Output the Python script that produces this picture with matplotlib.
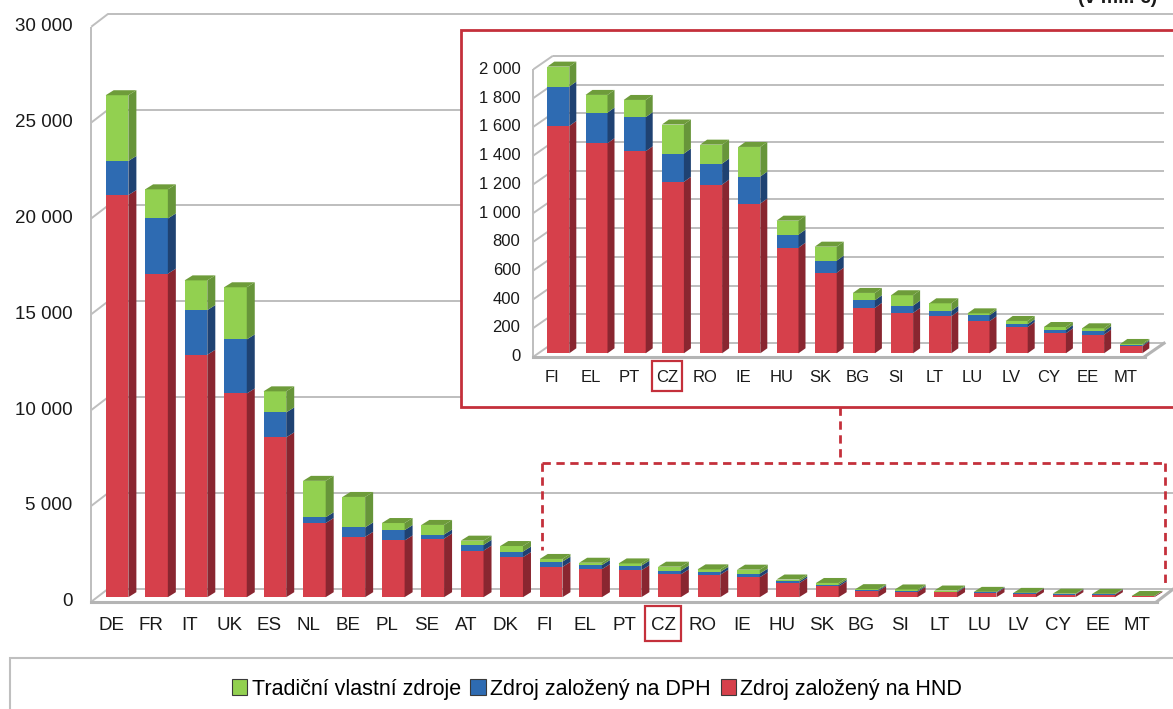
import numpy as np
import matplotlib
matplotlib.use('Agg')
import matplotlib.pyplot as plt
from matplotlib.patches import Polygon, Rectangle, Patch
from matplotlib.lines import Line2D

plt.rcParams['font.family'] = ['Liberation Sans', 'DejaVu Sans']
plt.rcParams['lines.scale_dashes'] = False

# ---------------- data (mil. EUR) ----------------
countries = ['DE', 'FR', 'IT', 'UK', 'ES', 'NL', 'BE', 'PL', 'SE', 'AT', 'DK',
             'FI', 'EL', 'PT', 'CZ', 'RO', 'IE', 'HU', 'SK', 'BG', 'SI', 'LT',
             'LU', 'LV', 'CY', 'EE', 'MT']
hnd = [20980, 16880, 12650, 10630, 8340, 3870, 3150, 2960, 3060, 2430, 2090,
       1582, 1462, 1406, 1193, 1174, 1042, 735, 561, 316, 281, 258,
       223, 183, 139, 130, 49]
dph = [1780, 2880, 2330, 2820, 1300, 300, 490, 540, 210, 300, 290,
       274, 213, 237, 197, 146, 188, 91, 84, 53, 51, 37,
       41, 19, 23, 23, 7]
tvz = [3430, 1520, 1550, 2720, 1100, 1900, 1590, 370, 500, 220, 290,
       139, 123, 120, 202, 132, 206, 97, 97, 51, 72, 53,
       14, 23, 21, 21, 9]
series_names = ['Tradiční vlastní zdroje', 'Zdroj založený na DPH', 'Zdroj založený na HND']
main_ticks = [0, 5000, 10000, 15000, 20000, 25000, 30000]
inset_ticks = [0, 200, 400, 600, 800, 1000, 1200, 1400, 1600, 1800, 2000]
inset_start = 'FI'
highlight = 'CZ'
unit_label = '(v mil. €)'

# ---------------- styles ----------------
RED, RED_S = '#D6404B', '#892630'
BLUE, BLUE_S = '#2E6BB2', '#1F4272'
GREEN, GREEN_S, GREEN_T = '#92D050', '#67953A', '#6E9C3A'
GRID = '#BEBEBE'
FRAME = '#C4303B'

W, H = 1173, 709
fig = plt.figure(figsize=(W / 100, H / 100), dpi=100)


def fmt(v):
    return f'{v:,}'.replace(',', ' ')


def make_axes(l, r, y0, ytop, n, vmax, z):
    ax = fig.add_axes([l / W, 1 - y0 / H, (r - l) / W, (y0 - ytop) / H], zorder=z)
    ax.set_xlim(-0.5, n - 0.5)
    ax.set_ylim(0, vmax)
    ax.axis('off')
    ax.patch.set_alpha(0)
    return ax, (r - l) / n, (y0 - ytop) / vmax


def draw_walls(ax, sx, sy, n, ticks, back, grid_right, lab_pad, fs):
    bx, by = back[0] / sx, back[1] / sy
    x0 = -0.5
    kw = dict(color=GRID, lw=1.4, clip_on=False, zorder=1, solid_capstyle='butt')
    for v in ticks:
        xr = grid_right if v > 0 else n - 0.5 + bx
        ax.plot([x0 + bx, xr], [v + by, v + by], **kw)
        ax.plot([x0, x0 + bx], [v, v + by], **kw)
        ax.text(x0 - lab_pad / sx, v, fmt(v), ha='right', va='center',
                fontsize=fs, color='#1a1a1a', clip_on=False)
    ax.plot([x0, x0], [0, ticks[-1]], **kw)
    ax.plot([x0, n - 0.5], [0, 0], color='#B4B4B4', lw=2.2, clip_on=False, zorder=1)
    ax.plot([n - 0.5, n - 0.5 + bx], [0, by], color='#B4B4B4', lw=2.2,
            clip_on=False, zorder=1)


def draw_bars(ax, sx, sy, segs, fronts, sides, top_c, bw_px, off_px, depth_px):
    n = len(segs[0])
    xs = np.arange(n)
    bw = bw_px / sx
    ox, oy = off_px[0] / sx, off_px[1] / sy
    dx, dy = depth_px[0] / sx, depth_px[1] / sy
    bottom = np.full(n, oy, dtype=float)
    for vals, fc, sc in zip(segs, fronts, sides):
        vals = np.asarray(vals, dtype=float)
        ax.bar(xs + ox, vals, width=bw, bottom=bottom, color=fc, lw=0, zorder=3,
               clip_on=False)
        for i in range(n):
            xr = xs[i] + ox + bw / 2
            b, t = bottom[i], bottom[i] + vals[i]
            ax.add_patch(Polygon([(xr, b), (xr + dx, b + dy), (xr + dx, t + dy), (xr, t)],
                                 closed=True, fc=sc, lw=0, zorder=3, clip_on=False))
        bottom = bottom + vals
    for i in range(n):
        xl = xs[i] + ox - bw / 2
        t = bottom[i]
        ax.add_patch(Polygon([(xl, t), (xl + dx, t + dy), (xl + bw + dx, t + dy), (xl + bw, t)],
                             closed=True, fc=top_c, lw=0, zorder=3, clip_on=False))


def draw_cats(ax, sx, sy, cats, pad, fs, box):
    for i, c in enumerate(cats):
        ax.text(i, -pad / sy, c, ha='center', va='center', fontsize=fs,
                color='#1a1a1a', clip_on=False)
        if c == highlight:
            bwid, bh, yoff = box
            ax.add_patch(Rectangle((i - bwid / 2 / sx, -(pad - yoff + bh / 2) / sy),
                                   bwid / sx, bh / sy, fill=False, ec=FRAME,
                                   lw=1.6, clip_on=False, zorder=5))


# ---------------- main chart ----------------
n_main = len(countries)
ax, sx, sy = make_axes(91.3, 91.3 + 27 * 39.46, 601.7, 26.7, n_main, 30000, 0)
draw_walls(ax, sx, sy, n_main, main_ticks, (17, 13), n_main + 2, 19, 13.5)
draw_bars(ax, sx, sy, [hnd, dph, tvz], [RED, BLUE, GREEN], [RED_S, BLUE_S, GREEN_S],
          GREEN_T, 22.7, (6, 4.5), (8, 5))
draw_cats(ax, sx, sy, countries, 24, 13.5, (36, 35, 2.5))

# ---------------- inset ----------------
k = countries.index(inset_start)
inset_c = countries[k:]
fig.add_artist(Rectangle((461 / W, 1 - 407 / H), (1200 - 461) / W, (407 - 30) / H,
                         transform=fig.transFigure, fc='white', ec=FRAME, lw=2.0, zorder=1.5))
n_in = len(inset_c)
ax2, sx2, sy2 = make_axes(533.4, 533.4 + 16 * 38.2, 356.7, 69.3, n_in, 2000, 2)
draw_walls(ax2, sx2, sy2, n_in, inset_ticks, (19.5, 13.5), n_in - 0.5 + 19.5 / sx2, 13, 12)
draw_bars(ax2, sx2, sy2, [hnd[k:], dph[k:], tvz[k:]], [RED, BLUE, GREEN],
          [RED_S, BLUE_S, GREEN_S], GREEN_T, 22, (5.8, 3.4), (7, 5))
draw_cats(ax2, sx2, sy2, inset_c, 21, 12, (29.5, 29.7, 2))

# ---------------- connector (dashed frame) ----------------
dash = dict(color=FRAME, lw=2.0, linestyle=(0, (6, 4)), transform=fig.transFigure, zorder=1.6)
def P(x, y):
    return x / W, 1 - y / H
for (xa, ya), (xb, yb) in [((840, 407), (840, 463)), ((542, 463), (1165, 463)),
                           ((542, 463), (542, 550)), ((1165, 463), (1165, 585))]:
    (fx0, fy0), (fx1, fy1) = P(xa, ya), P(xb, yb)
    fig.add_artist(Line2D([fx0, fx1], [fy0, fy1], **dash))

# ---------------- legend ----------------
fig.add_artist(Rectangle((10 / W, -0.1), 1.2, 0.1 + (709 - 658) / H, transform=fig.transFigure,
                         fill=False, ec='#BFBFBF', lw=1.5, zorder=1))
handles = [Patch(fc=c, ec='#3a3a3a', lw=0.8, label=s)
           for c, s in zip([GREEN, BLUE, RED], series_names)]
fig.legend(handles=handles, loc='center', bbox_to_anchor=(597 / W, 1 - 689 / H), ncol=3,
           frameon=False, fontsize=15.5, handlelength=0.72, handleheight=0.72,
           handletextpad=0.2, columnspacing=0.45, borderpad=0)

fig.text(1078 / W, 1 - 3 / H, unit_label, fontsize=14, weight='bold', va='baseline',
         ha='left', color='#1a1a1a')

fig.savefig('out.png', dpi=100)
